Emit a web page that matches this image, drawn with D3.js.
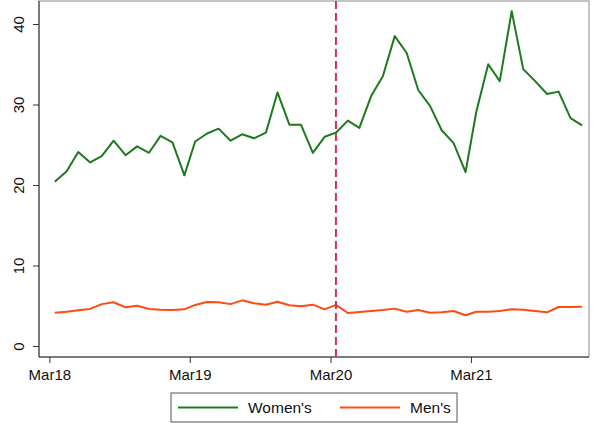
<!DOCTYPE html>
<html>
<head>
<meta charset="utf-8">
<script src="https://cdn.jsdelivr.net/npm/d3@7"></script>
<style>
    body { margin: 0; background: #fff; }
    svg { display: block; font-family: "Liberation Sans", Arial, sans-serif; }
</style>
</head>
<body>
<svg id="chart" width="593" height="423"></svg>
<script>
// monthly values, mid-month, Mar 2018 .. Dec 2021
let startYear = 2018;
let startMonth = 2; // March (0-based)
let womens = [20.4, 21.7, 24.1, 22.8, 23.6, 25.5, 23.7, 24.8, 24.0, 26.1, 25.3, 21.2,
              25.4, 26.4, 27.0, 25.5, 26.3, 25.8, 26.5, 31.5, 27.5, 27.5, 24.0, 26.0,
              26.5, 28.0, 27.1, 31.1, 33.5, 38.5, 36.4, 31.8, 29.8, 26.8, 25.2, 21.6,
              29.1, 35.0, 32.9, 41.6, 34.4, 32.9, 31.3, 31.6, 28.3, 27.4];
let mens = [4.14, 4.26, 4.43, 4.6, 5.2, 5.43, 4.8, 5.0, 4.6, 4.5, 4.47, 4.55,
            5.1, 5.47, 5.43, 5.2, 5.67, 5.3, 5.13, 5.5, 5.05, 4.93, 5.13, 4.55,
            5.1, 4.1, 4.22, 4.35, 4.47, 4.64, 4.26, 4.47, 4.14, 4.18, 4.35, 3.81,
            4.26, 4.26, 4.35, 4.55, 4.51, 4.35, 4.18, 4.84, 4.84, 4.88];
let yTicks = [0, 10, 20, 30, 40];
let xTickLabels = ["Mar18", "Mar19", "Mar20", "Mar21"];
let seriesNames = ["Women's", "Men's"];
let eventDate = new Date(2020, 2, 15); // vertical marker

let colours = ["#1d7a1d", "#ff4a12"];
let markerColour = "#d22f5c";

let plot = { left: 39, right: 589, top: 1, bottom: 357 };

let dates = womens.map((d, i) => new Date(startYear, startMonth + i, 15));
let tickDates = xTickLabels.map((d, i) => new Date(2018 + i, 2, 1));

let svg = d3.select("#chart");

let x = d3.scaleTime()
    .domain([new Date(2018, 1, 2), new Date(2022, 0, 2)])
    .range([plot.left, plot.right]);
let y = d3.scaleLinear()
    .domain([-1.37, 42.86])
    .range([plot.bottom, plot.top]);

// frame round the plot region
svg.append("rect")
    .attr("x", plot.left)
    .attr("y", plot.top)
    .attr("width", plot.right - plot.left)
    .attr("height", plot.bottom - plot.top)
    .style("fill", "none")
    .style("stroke", "#8a8a8a")
    .style("stroke-width", 1);

// y axis
let yAxis = d3.axisLeft(y).tickValues(yTicks).tickSize(6).tickSizeOuter(0).tickFormat(d3.format("d"));
let gy = svg.append("g")
    .attr("transform", "translate(" + plot.left + ",0)")
    .call(yAxis);
gy.select(".domain").style("stroke", "#333").attr("d", "M0," + plot.top + "V" + plot.bottom);
gy.selectAll(".tick line").style("stroke", "#333");
gy.selectAll(".tick text")
    .attr("x", null).attr("dy", null)
    .attr("transform", "translate(-15,0) rotate(-90)")
    .attr("text-anchor", "middle")
    .style("font-size", "15px")
    .style("font-family", "Liberation Sans, Arial, sans-serif")
    .style("fill", "#111");

// x axis
let xAxis = d3.axisBottom(x).tickValues(tickDates).tickSize(6).tickSizeOuter(0)
    .tickFormat((d, i) => xTickLabels[i]);
let gx = svg.append("g")
    .attr("transform", "translate(0," + plot.bottom + ")")
    .call(xAxis);
gx.select(".domain").style("stroke", "#333").attr("d", "M" + plot.left + ",0H" + plot.right);
gx.selectAll(".tick line").style("stroke", "#333");
gx.selectAll(".tick text")
    .attr("y", 23).attr("dy", null)
    .style("font-size", "15px")
    .style("font-family", "Liberation Sans, Arial, sans-serif")
    .style("fill", "#111");

// series lines
let line = d3.line()
    .x((d, i) => x(dates[i]))
    .y(d => y(d));

[womens, mens].forEach((s, k) => {
    svg.append("path")
        .datum(s)
        .attr("d", line)
        .style("fill", "none")
        .style("stroke", colours[k])
        .style("stroke-width", 2)
        .style("stroke-linejoin", "round");
});

// dashed event marker
svg.append("line")
    .attr("x1", x(eventDate))
    .attr("x2", x(eventDate))
    .attr("y1", plot.top)
    .attr("y2", plot.bottom)
    .style("stroke", markerColour)
    .style("stroke-width", 2)
    .style("stroke-dasharray", "8,4");

// legend
let legW = 286, legH = 29;
let legX = (plot.left + plot.right) / 2 - legW / 2;
let legY = 393;
let leg = svg.append("g").attr("transform", "translate(" + legX + "," + legY + ")");
leg.append("rect")
    .attr("width", legW)
    .attr("height", legH)
    .style("fill", "#fff")
    .style("stroke", "#555")
    .style("stroke-width", 1);
let itemX = [7, 169];
seriesNames.forEach((name, k) => {
    leg.append("line")
        .attr("x1", itemX[k])
        .attr("x2", itemX[k] + 60)
        .attr("y1", legH / 2)
        .attr("y2", legH / 2)
        .style("stroke", colours[k])
        .style("stroke-width", 2);
    leg.append("text")
        .attr("x", itemX[k] + 70)
        .attr("y", legH / 2 + 5.5)
        .style("font-size", "15.5px")
        .style("fill", "#111")
        .text(name);
});
</script>
</body>
</html>
